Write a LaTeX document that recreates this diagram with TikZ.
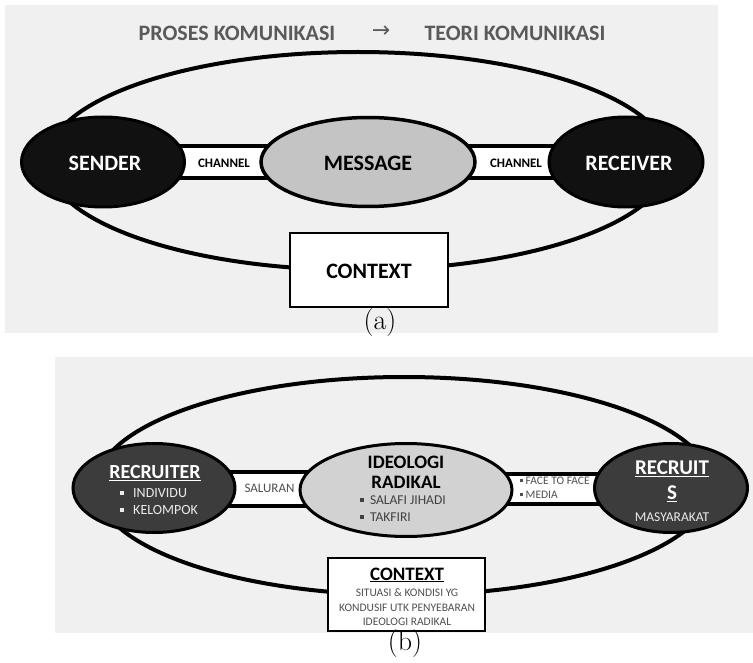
\documentclass[tikz,border=0pt]{standalone}
\usepackage{fontspec}
\newfontfamily\carl{Carlito}
\newfontfamily\dvs{DejaVu Sans}
\usetikzlibrary{shapes.geometric}
\pgfdeclarelayer{back}\pgfdeclarelayer{mid}
\pgfsetlayers{back,mid,main}
\definecolor{panelgray}{HTML}{F0F0F0}
\definecolor{titlegray}{HTML}{5A5A5A}
\definecolor{msggray}{HTML}{C4C4C4}
\definecolor{idegray}{HTML}{D2D2D2}
\definecolor{darkfill}{HTML}{111111}
\definecolor{darkgrayfill}{HTML}{3C3C3C}
\definecolor{txtgray}{HTML}{505050}
\newcommand{\sqb}[1]{\rule[0.2em]{0.28em}{0.28em}\hspace{#1}}
\tikzset{
  panel/.style={fill=panelgray},
  outerell/.style={ellipse, draw=black, line width=4pt, inner sep=0pt},
  darkell/.style={ellipse, draw=black, line width=3pt, fill=darkfill, inner sep=0pt},
  dgell/.style={ellipse, draw=black, line width=3pt, fill=darkgrayfill, inner sep=0pt},
  lightell/.style={ellipse, draw=black, line width=3.5pt, fill=msggray, inner sep=0pt},
  ideell/.style={ellipse, draw=black, line width=3pt, fill=idegray, inner sep=0pt},
  chan/.style={draw=black, fill=white, line width=4pt},
  ctxbox/.style={draw=black, fill=white, line width=2.5pt, inner sep=0pt},
  bigtxt/.style={font=\carl\bfseries\fontsize{22}{26}\selectfont, inner sep=0pt},
  titletxt/.style={font=\carl\bfseries\fontsize{22}{26}\selectfont, text=titlegray, inner sep=0pt},
  chantxt/.style={font=\carl\bfseries\fontsize{13}{15}\selectfont, inner sep=0pt},
  caption/.style={font=\fontsize{28}{32}\selectfont, inner sep=0pt},
}
\begin{document}
\begin{tikzpicture}[x=1pt,y=-1pt]
\useasboundingbox (0,0) rectangle (753,663);
\begin{pgfonlayer}{back}
  \fill[white] (0,0) rectangle (753,663);
  \fill[panel] (5,5) rectangle (718,333);
  \fill[panel] (55,357) rectangle (753,633);
\end{pgfonlayer}

% ---------- panel (a) ----------
\node[titletxt] (t1) at (237,33) {PROSES KOMUNIKASI};
\node[font=\dvs\fontsize{22}{24}\selectfont, text=titlegray, inner sep=0pt, anchor=base] (arr) at (381,38) {→};
\node[titletxt] (t2) at (515,33) {TEORI KOMUNIKASI};

\begin{pgfonlayer}{back}
  \node[outerell, minimum width=622pt, minimum height=218pt] (oa) at (358,161) {};
\end{pgfonlayer}

\node[darkell, minimum width=163pt, minimum height=90pt] (snd) at (103,162) {};
\node[darkell, minimum width=154pt, minimum height=90pt] (rcv) at (626,162) {};
\node[lightell, minimum width=214pt, minimum height=89pt] (msg) at (368,162) {};

\begin{pgfonlayer}{mid}
  \draw[chan] ([yshift=16pt]snd.center) rectangle ([yshift=-16pt]msg.center);
  \draw[chan] ([yshift=16pt]msg.center) rectangle ([yshift=-16pt]rcv.center);
\end{pgfonlayer}

\node[bigtxt, text=white] (sndt) at (105,163) {SENDER};
\node[bigtxt, text=white] (rcvt) at (629,163) {RECEIVER};
\node[bigtxt] (msgt) at (368,163) {MESSAGE};
\node[chantxt] (c1) at (224,163) {CHANNEL};
\node[chantxt] (c2) at (516,163) {CHANNEL};

\node[ctxbox, minimum width=158pt, minimum height=74pt] (ctxa) at (369,270) {};
\node[bigtxt] (ctxat) at (369,271) {CONTEXT};

\node[caption] (la) at (380,323) {(a)};

% ---------- panel (b) ----------
\begin{pgfonlayer}{back}
  \node[outerell, minimum width=616pt, minimum height=218pt] (ob) at (404,486) {};
\end{pgfonlayer}

\node[dgell, minimum width=162pt, minimum height=89pt] (rec) at (154,488) {};
\node[dgell, minimum width=153pt, minimum height=89pt] (rcs) at (671,488) {};
\node[ideell, minimum width=212pt, minimum height=93pt] (ide) at (406,490) {};

\begin{pgfonlayer}{mid}
  \draw[chan, line width=3.5pt] ([yshift=16pt]rec.center) rectangle ([yshift=-16pt]ide.center);
  \draw[chan, line width=3.5pt] ([yshift=16pt]ide.center) rectangle ([yshift=-16pt]rcs.center);
\end{pgfonlayer}

\node[font=\carl\bfseries\fontsize{20}{24}\selectfont, text=white, inner sep=0pt] (rect) at (155,473) {\underline{RECRUITER}};
\node[font=\carl\fontsize{14}{17}\selectfont, text=white!92!black, align=left, anchor=west, inner sep=0pt] (recl) at (120,501.5) {\sqb{0.65em}INDIVIDU\\\sqb{0.65em}KELOMPOK};

\node[font=\carl\fontsize{13}{15}\selectfont, text=txtgray, inner sep=0pt] (sal) at (269.5,488) {SALURAN};

\node[font=\carl\bfseries\fontsize{19}{20}\selectfont, align=center, inner sep=0pt] (idet) at (406,472) {IDEOLOGI\\RADIKAL};
\node[font=\carl\fontsize{13.5}{17}\selectfont, text=txtgray!80!black, align=left, anchor=west, inner sep=0pt] (idel) at (360,508.5) {\sqb{0.45em}SALAFI JIHADI\\\sqb{0.45em}TAKFIRI};

\node[font=\carl\fontsize{11.5}{14}\selectfont, text=txtgray, align=left, anchor=west, inner sep=0pt] (ftf) at (520,488) {\sqb{0.2em}FACE TO FACE\\\sqb{0.2em}MEDIA};

\node[font=\carl\bfseries\fontsize{21}{25}\selectfont, text=white, align=center, inner sep=0pt] (rcst) at (672,481) {\underline{RECRUIT}\\\underline{S}};
\node[font=\carl\fontsize{13.5}{15}\selectfont, text=white!92!black, inner sep=0pt] (rcsl) at (672,517) {MASYARAKAT};

\node[ctxbox, minimum width=157pt, minimum height=73pt] (ctxb) at (406.5,594.5) {};
\node[font=\carl\bfseries\fontsize{19}{22}\selectfont, inner sep=0pt] (ctxbt) at (407,575) {\underline{CONTEXT}};
\node[font=\carl\fontsize{11.5}{14.5}\selectfont, text=txtgray, align=center, inner sep=0pt] (ctxbl) at (407,607.5) {SITUASI \& KONDISI YG\\KONDUSIF UTK PENYEBARAN\\IDEOLOGI RADIKAL};

\node[caption] (lb) at (405,644) {(b)};
\end{tikzpicture}
\end{document}
